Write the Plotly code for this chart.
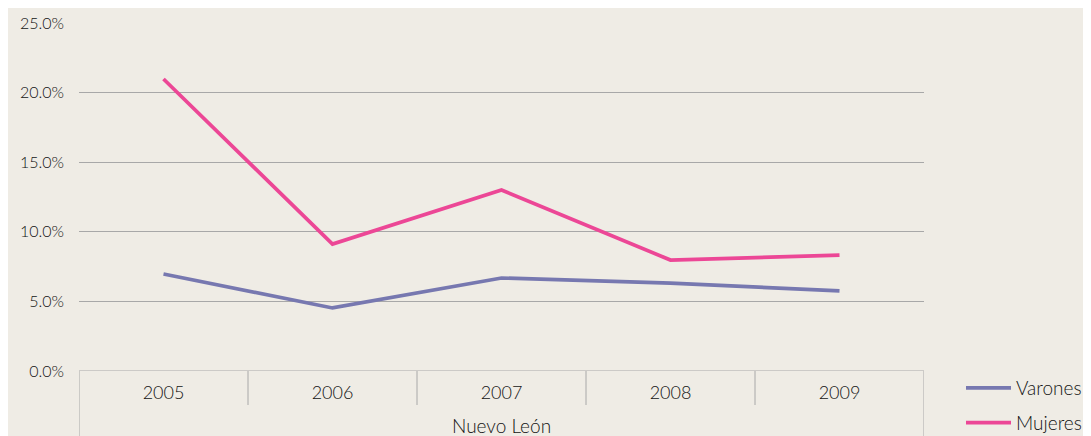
import plotly.graph_objects as go

years = ["2005", "2006", "2007", "2008", "2009"]
group_label = "Nuevo León"
varones = [6.97, 4.53, 6.68, 6.32, 5.75]
mujeres = [20.98, 9.12, 13.0, 7.97, 8.33]
y_ticks = [0, 5, 10, 15, 20, 25]

BG = "#EFECE5"
GRID = "#A8A8A8"
TXT = "#141414"
FONT = "Lato, 'Open Sans', sans-serif"
WEIGHT = 300

# page offset of the figure (body margin) and target plot area in window pixels
OX, OY = 8, 8
W, H = 1091 - OX, 436 - OY
L, R, T, B = 79 - OX, 924 - OX, 23 - OY, 371 - OY
pw, ph = R - L, B - T

def py(win_y):
    return (B - (win_y - OY)) / ph

def px_x(win_x):
    return ((win_x - OX) - L) / pw

fig = go.Figure()
fig.add_trace(go.Scatter(x=list(range(len(years))), y=varones, mode="lines", name="Varones",
                         line=dict(color="#7778B0", width=3.7), legendgroup="v"))
fig.add_trace(go.Scatter(x=list(range(len(years))), y=mujeres, mode="lines", name="Mujeres",
                         line=dict(color="#EC4796", width=3.7), legendgroup="m"))

shapes = []
n = len(years)
for i in range(n + 1):
    outer = i == 0 or i == n
    shapes.append(dict(type="line", xref="x", yref="paper", x0=i - 0.5, x1=i - 0.5,
                       y0=0, y1=py(440) if outer else py(405),
                       line=dict(color=GRID, width=1)))

annotations = [dict(text=group_label, xref="paper", yref="paper", x=0.5, y=py(425),
                    showarrow=False, font=dict(size=19, color=TXT, family=FONT, weight=WEIGHT),
                    xanchor="center", yanchor="middle")]

fig.update_layout(
    width=W, height=H,
    margin=dict(l=L, r=W - R, t=T, b=H - B, autoexpand=False),
    paper_bgcolor=BG, plot_bgcolor=BG,
    font=dict(family=FONT, color=TXT, size=16, weight=WEIGHT),
    xaxis=dict(range=[-0.5, n - 0.5], tickmode="array", tickvals=list(range(n)), ticktext=years,
               showgrid=False, zeroline=False, showline=False, ticks="", ticklabelstandoff=9,
               tickfont=dict(size=18, weight=WEIGHT, color=TXT), automargin=False),
    yaxis=dict(range=[0, 25], tickvals=y_ticks, ticktext=[f"{v:.1f}%" for v in y_ticks],
               showgrid=True, gridcolor=GRID, gridwidth=1, zeroline=False, showline=False,
               ticks="", ticklabelstandoff=14, tickfont=dict(size=16, weight=WEIGHT, color=TXT),
               automargin=False),
    legend=dict(x=px_x(961), y=py(369), xanchor="left", yanchor="top", bgcolor="rgba(0,0,0,0)",
                font=dict(size=19, weight=WEIGHT, color=TXT), tracegroupgap=7, itemwidth=45,
                traceorder="grouped"),
    shapes=shapes, annotations=annotations,
)
fig.add_shape(type="line", xref="paper", yref="y", x0=0, x1=1, y0=0, y1=0, line=dict(color=GRID, width=1))

fig.write_html("out.html")
